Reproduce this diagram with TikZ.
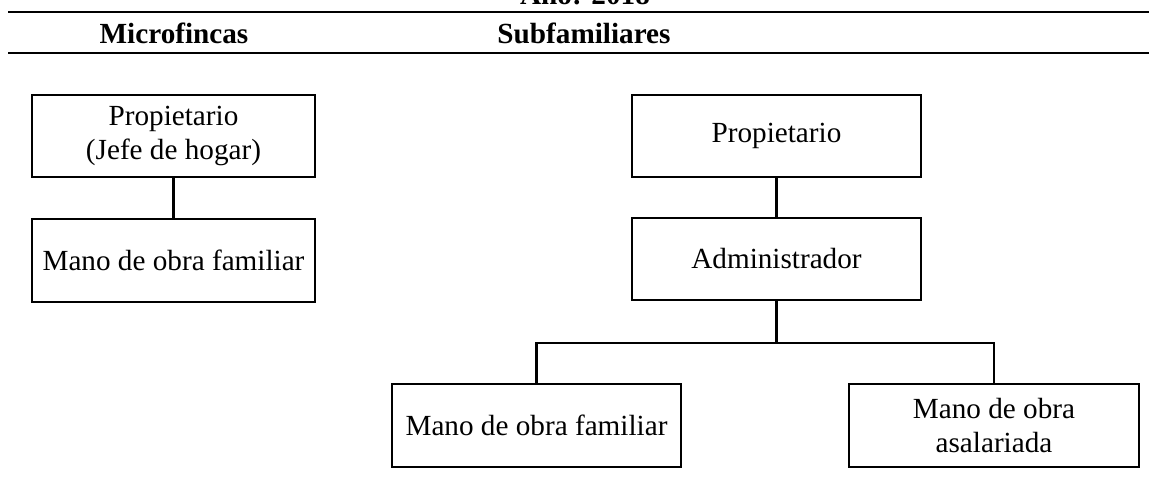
\documentclass[tikz,border=0pt]{standalone}
\usepackage{fontspec}
\setmainfont{Liberation Serif}
\begin{document}
\begin{tikzpicture}[x=0.411pt, y=-0.411pt,
        caja/.style={draw, line width=1pt, align=center, inner sep=2pt,
            minimum height=33.9pt, font=\fontsize{12}{13.8}\selectfont},
        linea/.style={line width=1pt},
        regla/.style={line width=1.2pt},
        titulo/.style={anchor=base, font=\fontsize{12}{14}\selectfont\bfseries}]
\useasboundingbox (0,0) rectangle (1149,502);

% encabezado
\node[titulo] (anio) at (585,4) {Año: 2018};
\draw[regla] (8,12) -- (1160,12);
\node[titulo] (micro) at (174,43) {Microfincas};
\node[titulo] (subfam) at (584,43) {Subfamiliares};
\draw[regla] (8,53) -- (1160,53);

% microfincas
\node[caja, minimum width=116.3pt] (prop1) at (173.5,136) {Propietario\\(Jefe de hogar)};
\node[caja, minimum width=116.3pt] (mof1) at (173.5,260.5) {Mano de obra familiar};
\draw[linea] (prop1.south) -- (mof1.north);

% subfamiliares
\node[caja, minimum width=118.8pt] (prop2) at (776.5,136) {Propietario};
\node[caja, minimum width=118.8pt] (adm) at (776.5,259) {Administrador};
\node[caja, minimum width=118.8pt] (mof2) at (536.5,425.5) {Mano de obra familiar};
\node[caja, minimum width=119.2pt] (moa) at (994,425.5) {Mano de obra\\asalariada};
\coordinate (rama) at (776.5,343);

\draw[linea] (prop2.south) -- (adm.north);
\draw[linea] (adm.south) -- (rama);
\draw[linea] (rama) -| (mof2.north);
\draw[linea] (rama) -| (moa.north);
\end{tikzpicture}
\end{document}
